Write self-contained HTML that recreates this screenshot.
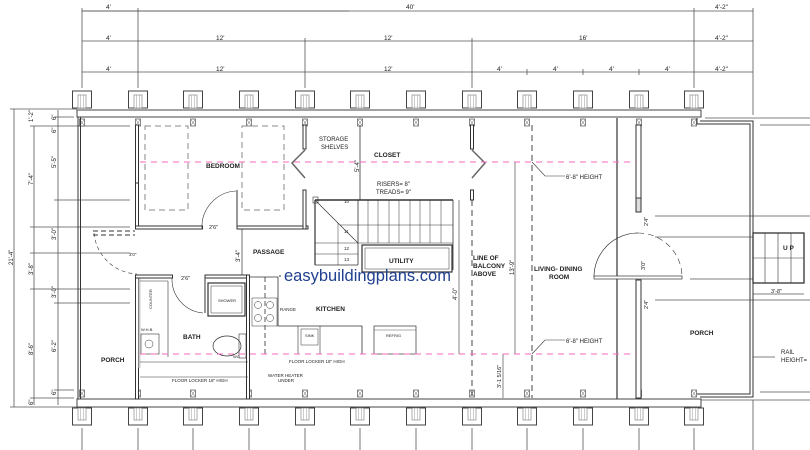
<!DOCTYPE html>
<html><head><meta charset="utf-8"><style>
html,body{margin:0;padding:0;background:#fff;}
svg{display:block;}
text{font-family:"Liberation Sans",sans-serif;fill:#222;}
.b{font-weight:bold;}
</style></head><body>
<svg width="810" height="450" viewBox="0 0 810 450" xmlns="http://www.w3.org/2000/svg">
<defs>
<g id="pier"><rect x="-9.5" y="0" width="19" height="17" fill="#fff" stroke="#444" stroke-width="1"/><rect x="-4" y="4" width="8" height="13" fill="#fff" stroke="#777" stroke-width="0.6"/><line x1="-1.3" y1="4" x2="-1.3" y2="17" stroke="#999" stroke-width="0.5"/><line x1="1.3" y1="4" x2="1.3" y2="17" stroke="#999" stroke-width="0.5"/></g>
<g id="pierb"><rect x="-9.5" y="0" width="19" height="17" fill="#fff" stroke="#444" stroke-width="1"/><rect x="-4" y="0" width="8" height="12" fill="#fff" stroke="#777" stroke-width="0.6"/><line x1="-1.3" y1="0" x2="-1.3" y2="12" stroke="#999" stroke-width="0.5"/><line x1="1.3" y1="0" x2="1.3" y2="12" stroke="#999" stroke-width="0.5"/></g>
<g id="jst"><rect x="-2.5" y="0" width="5" height="7" fill="#fff" stroke="#555" stroke-width="0.7"/><line x1="-2.5" y1="0" x2="2.5" y2="7" stroke="#666" stroke-width="0.5"/><line x1="2.5" y1="0" x2="-2.5" y2="7" stroke="#666" stroke-width="0.5"/></g>
</defs>
<g stroke="#555" stroke-width="0.8" fill="none">
<!-- top dims -->
<line x1="82" y1="11" x2="349" y2="11"/><line x1="82" y1="11" x2="753" y2="11"/>
<line x1="82" y1="41" x2="753" y2="41"/>
<line x1="82" y1="72" x2="753" y2="72"/>
<line x1="82" y1="8" x2="82" y2="88"/><line x1="138" y1="8" x2="138" y2="88"/>
<line x1="305" y1="38" x2="305" y2="88"/><line x1="472" y1="38" x2="472" y2="88"/>
<line x1="694" y1="8" x2="694" y2="88"/><line x1="753" y1="8" x2="753" y2="115"/>
<line x1="527" y1="69" x2="527" y2="75"/><line x1="583" y1="69" x2="583" y2="75"/><line x1="639" y1="69" x2="639" y2="75"/>
<!-- left dims -->
<line x1="14" y1="109" x2="14" y2="407"/><line x1="10" y1="109" x2="77" y2="109"/><line x1="10" y1="407" x2="77" y2="407"/>
<line x1="34" y1="126" x2="34" y2="405"/><line x1="58" y1="110" x2="58" y2="405"/>
<line x1="30" y1="126" x2="130" y2="126"/><line x1="30" y1="227" x2="130" y2="227"/><line x1="30" y1="253" x2="130" y2="253"/>
<line x1="30" y1="289" x2="130" y2="289"/><line x1="54" y1="200" x2="130" y2="200"/><line x1="54" y1="303" x2="130" y2="303"/>
<line x1="54" y1="390" x2="74" y2="390"/><line x1="30" y1="398" x2="74" y2="398"/><line x1="54" y1="117" x2="74" y2="117"/>
<!-- bottom dim ticks -->
<line x1="82" y1="428" x2="82" y2="450"/><line x1="138" y1="428" x2="138" y2="450"/><line x1="193" y1="428" x2="193" y2="450"/><line x1="249" y1="428" x2="249" y2="450"/><line x1="305" y1="428" x2="305" y2="450"/><line x1="360" y1="428" x2="360" y2="450"/><line x1="416" y1="428" x2="416" y2="450"/><line x1="472" y1="428" x2="472" y2="450"/><line x1="527" y1="428" x2="527" y2="450"/><line x1="583" y1="428" x2="583" y2="450"/><line x1="639" y1="428" x2="639" y2="450"/><line x1="694" y1="428" x2="694" y2="450"/><line x1="753" y1="400" x2="753" y2="450"/>
<!-- right extension lines -->
<line x1="705" y1="118" x2="810" y2="118"/><line x1="760" y1="125" x2="810" y2="125"/>
<line x1="655" y1="216" x2="810" y2="216"/><line x1="655" y1="237" x2="753" y2="237"/>
<line x1="690" y1="279" x2="753" y2="279"/><line x1="655" y1="300" x2="810" y2="300"/>
<line x1="753" y1="294" x2="804" y2="294"/>
<line x1="753" y1="357" x2="775" y2="357"/>
<line x1="760" y1="392" x2="810" y2="392"/><line x1="700" y1="400" x2="810" y2="400"/>
</g>
<g fill="#333" font-size="6.5">
<text x="106" y="9">4'</text><text x="406" y="9">40'</text><text x="715" y="9">4'-2"</text>
<text x="106" y="40">4'</text><text x="216" y="40">12'</text><text x="384" y="40">12'</text><text x="579" y="40">16'</text><text x="715" y="40">4'-2"</text>
<text x="106" y="71">4'</text><text x="216" y="71">12'</text><text x="384" y="71">12'</text><text x="497" y="71">4'</text><text x="553" y="71">4'</text><text x="609" y="71">4'</text><text x="665" y="71">4'</text><text x="715" y="71">4'-2"</text>
</g>
<g font-size="6" fill="#333">
<text transform="translate(13,265) rotate(-90)">21'-4"</text>
<text transform="translate(33,185) rotate(-90)">7'-4"</text>
<text transform="translate(33,275) rotate(-90)">3'-8"</text>
<text transform="translate(33,355) rotate(-90)">8'-6"</text>
<text transform="translate(33,122) rotate(-90)">1'-2"</text>
<text transform="translate(56,168) rotate(-90)">5'-5"</text>
<text transform="translate(56,240) rotate(-90)">3'-0"</text>
<text transform="translate(56,298) rotate(-90)">3'-0"</text>
<text transform="translate(56,352) rotate(-90)">6'-2"</text>
<text transform="translate(56,120) rotate(-90)">6"</text>
<text transform="translate(56,133) rotate(-90)">6"</text>
<text transform="translate(56,395) rotate(-90)">6"</text>
<text transform="translate(33,405) rotate(-90)">6"</text>
</g>
<!-- piers -->
<g>
<use href="#pier" x="82" y="91"/><use href="#pier" x="138" y="91"/><use href="#pier" x="193" y="91"/><use href="#pier" x="249" y="91"/><use href="#pier" x="305" y="91"/><use href="#pier" x="360" y="91"/><use href="#pier" x="416" y="91"/><use href="#pier" x="472" y="91"/><use href="#pier" x="527" y="91"/><use href="#pier" x="583" y="91"/><use href="#pier" x="639" y="91"/><use href="#pier" x="694" y="91"/>
<use href="#pierb" x="82" y="408"/><use href="#pierb" x="138" y="408"/><use href="#pierb" x="193" y="408"/><use href="#pierb" x="249" y="408"/><use href="#pierb" x="305" y="408"/><use href="#pierb" x="360" y="408"/><use href="#pierb" x="416" y="408"/><use href="#pierb" x="472" y="408"/><use href="#pierb" x="527" y="408"/><use href="#pierb" x="583" y="408"/><use href="#pierb" x="639" y="408"/><use href="#pierb" x="694" y="408"/>
</g>
<!-- beams -->
<rect x="77" y="110" width="624" height="7" fill="#fff" stroke="#444" stroke-width="1"/>
<rect x="77" y="399" width="624" height="8" fill="#fff" stroke="#444" stroke-width="1"/>
<g>
<use href="#jst" x="82" y="119"/><use href="#jst" x="138" y="119"/><use href="#jst" x="193" y="119"/><use href="#jst" x="249" y="119"/><use href="#jst" x="305" y="119"/><use href="#jst" x="360" y="119"/><use href="#jst" x="416" y="119"/><use href="#jst" x="472" y="119"/><use href="#jst" x="527" y="119"/><use href="#jst" x="583" y="119"/><use href="#jst" x="639" y="119"/><use href="#jst" x="694" y="119"/>
<use href="#jst" x="82" y="390"/><use href="#jst" x="138" y="390"/><use href="#jst" x="193" y="390"/><use href="#jst" x="249" y="390"/><use href="#jst" x="305" y="390"/><use href="#jst" x="360" y="390"/><use href="#jst" x="416" y="390"/><use href="#jst" x="472" y="390"/><use href="#jst" x="527" y="390"/><use href="#jst" x="583" y="390"/><use href="#jst" x="639" y="390"/><use href="#jst" x="694" y="390"/>
</g>
<g stroke="#333" stroke-width="1" fill="none">
<!-- outer left wall -->
<line x1="78" y1="117" x2="78" y2="399"/><line x1="80.5" y1="117" x2="80.5" y2="399"/>
<!-- bedroom left wall -->
<rect x="135.5" y="125" width="3" height="58" fill="#fff"/><rect x="135.5" y="183" width="3" height="44" fill="#fff"/>
<!-- bedroom bottom wall -->
<rect x="135.5" y="226" width="67" height="3" fill="#fff"/><rect x="237" y="226" width="71" height="3" fill="#fff"/>
<line x1="237" y1="190" x2="237" y2="226"/>
<path d="M202 229 A36 36 0 0 1 236 191" stroke-width="0.6"/>
<!-- bedroom right wall -->
<rect x="303" y="125" width="3" height="24" fill="#fff"/><rect x="303" y="190" width="3" height="39" fill="#fff"/>
<polyline points="305,150 292,163 305,178" stroke="#666" stroke-width="1.5"/>
<!-- closet right -->
<rect x="470.5" y="125" width="3" height="24" fill="#fff"/><rect x="470.5" y="190" width="3" height="10" fill="#fff"/>
<polyline points="472,150 485,163 472,178" stroke="#666" stroke-width="1.5"/>
<line x1="360" y1="125" x2="360" y2="200" stroke-width="0.8"/>
<!-- porch door left -->
<line x1="93" y1="231" x2="135" y2="231" stroke-dasharray="5,3"/><line x1="93" y1="235" x2="135" y2="235" stroke-dasharray="5,3"/>
<path d="M94 233 A45 45 0 0 0 137 274" stroke-dasharray="4,3" stroke-width="0.6"/>
<!-- bath walls -->
<rect x="135.5" y="275" width="3" height="124" fill="#fff"/><rect x="138.5" y="278" width="2" height="90" fill="#ccc" stroke="none"/>
<rect x="135.5" y="275" width="37" height="3" fill="#fff"/><rect x="205" y="275" width="43" height="3" fill="#fff"/>
<line x1="205" y1="278" x2="205" y2="313"/>
<path d="M172 278 A34 34 0 0 0 203 313" stroke-width="0.6"/>
<rect x="246.5" y="275" width="3" height="124" fill="#fff"/>
<rect x="208" y="283" width="37" height="33" stroke-width="1.2"/><rect x="211" y="286" width="31" height="27" stroke-width="0.5"/>
<line x1="168" y1="281" x2="168" y2="357" stroke-width="0.6"/>
<line x1="140" y1="281" x2="168" y2="281" stroke-width="0.6"/>
<rect x="141" y="334" width="18" height="20" stroke-width="0.6"/><circle cx="149" cy="344" r="4" stroke-width="0.5"/>
<ellipse cx="227" cy="346" rx="14" ry="10" stroke-width="0.7"/><rect x="239" y="334" width="7" height="24" stroke-width="0.6"/>
<line x1="140" y1="362" x2="248" y2="362" stroke-width="0.6"/><line x1="140" y1="377" x2="248" y2="377" stroke-width="0.6"/>
<!-- passage -->
<line x1="242" y1="229" x2="242" y2="275" stroke-width="0.7"/>
<!-- stairs -->
<rect x="313" y="197" width="5" height="6" stroke-width="0.6"/>
<line x1="315" y1="200" x2="453" y2="200" stroke-width="1.4"/>
<line x1="315" y1="200" x2="315" y2="265" stroke-width="1.2"/>
<line x1="315" y1="265" x2="358" y2="265" stroke-width="0.8"/>
<line x1="358" y1="200" x2="358" y2="265" stroke-width="0.8"/>
<line x1="315" y1="200" x2="358" y2="243" stroke-width="0.7"/>
<line x1="340" y1="225" x2="453" y2="225" stroke-width="0.5"/>
<line x1="358" y1="243" x2="453" y2="243" stroke-width="0.6"/>
<line x1="315" y1="243" x2="358" y2="243" stroke-width="0.5"/>
<line x1="338" y1="223" x2="338" y2="265" stroke-width="0.5"/>
<line x1="315" y1="254" x2="358" y2="254" stroke-width="0.5"/>
<g stroke-width="0.5"><line x1="368" y1="200" x2="368" y2="243"/><line x1="378" y1="200" x2="378" y2="243"/><line x1="389" y1="200" x2="389" y2="243"/><line x1="399" y1="200" x2="399" y2="243"/><line x1="410" y1="200" x2="410" y2="243"/><line x1="420" y1="200" x2="420" y2="243"/><line x1="430" y1="200" x2="430" y2="243"/><line x1="441" y1="200" x2="441" y2="243"/></g>
<line x1="453" y1="200" x2="453" y2="270" stroke-width="0.8"/>
<rect x="362" y="245" width="90" height="27" stroke-width="1.2"/><rect x="365" y="248" width="84" height="21" stroke-width="0.5"/>
<!-- kitchen -->
<polyline points="250,277 278,277 278,326 362,326 362,354" stroke-width="0.8"/>
<line x1="280" y1="275" x2="280" y2="277" />
<line x1="265" y1="277" x2="265" y2="354" stroke-dasharray="5,3" stroke-width="0.8"/>
<rect x="252" y="298" width="25" height="28" stroke-width="0.5"/>
<circle cx="258" cy="305" r="3.5" stroke-width="0.5"/><circle cx="258" cy="318" r="3.5" stroke-width="0.5"/><circle cx="270" cy="305" r="3.5" stroke-width="0.5"/><circle cx="270" cy="318" r="3.5" stroke-width="0.5"/>
<line x1="298" y1="326" x2="298" y2="354" stroke-width="0.6"/><line x1="320" y1="326" x2="320" y2="354" stroke-width="0.6"/>
<rect x="301" y="329" width="17" height="16" stroke-width="0.5"/>
<rect x="374" y="326" width="42" height="28" stroke-width="0.7"/><line x1="374" y1="330" x2="416" y2="330" stroke-width="0.4"/>
<!-- balcony / living -->
<line x1="472" y1="200" x2="472" y2="398" stroke-dasharray="6,4" stroke-width="0.9"/>
<line x1="532" y1="125" x2="532" y2="398" stroke-dasharray="6,4" stroke-width="0.9"/>
<line x1="515" y1="162" x2="515" y2="354" stroke-width="0.6"/>
<line x1="459" y1="200" x2="459" y2="354" stroke-width="0.6"/>
<line x1="503" y1="354" x2="503" y2="398" stroke-width="0.6"/>
<polyline points="532,162 545,176 565,176" stroke-width="0.6"/>
<polyline points="532,354 545,340 565,340" stroke-width="0.6"/>
<!-- right walls -->
<line x1="617" y1="118" x2="617" y2="399" stroke-width="1.2"/>
<rect x="636" y="125" width="5" height="87" fill="#fff"/><rect x="636" y="280" width="5" height="118" fill="#fff"/>
<rect x="636" y="198" width="5" height="14" fill="#ddd"/>
<path d="M594 277 A44 44 0 0 1 638 233" stroke-width="0.7"/>
<path d="M638 233 A44 44 0 0 1 682 277" stroke-dasharray="6,4" stroke-width="0.6"/>
<rect x="594" y="276" width="88" height="3" fill="#fff" stroke-width="0.7"/>
<!-- porch right -->
<polyline points="697,118 697,124 750,124 750,394 697,394" stroke-width="1"/>
<polyline points="700,121 753,121 753,397 700,397" stroke-width="1"/>
<!-- UP stairs -->
<rect x="753" y="233" width="51" height="50" stroke-width="1.3"/>
<line x1="753" y1="258" x2="804" y2="258" stroke-width="0.6"/>
<line x1="765" y1="233" x2="765" y2="283" stroke-width="0.6"/><line x1="778" y1="233" x2="778" y2="283" stroke-width="0.6"/><line x1="791" y1="233" x2="791" y2="283" stroke-width="0.6"/>
</g>
<!-- beds -->
<g stroke="#888" stroke-width="1" fill="none" stroke-dasharray="6,4">
<rect x="145" y="126" width="43" height="84"/><rect x="242" y="126" width="42" height="84"/>
</g>
<!-- pink lines -->
<g stroke="#f06aba" stroke-width="1" stroke-dasharray="6,5">
<line x1="140" y1="162" x2="636" y2="162"/>
<line x1="140" y1="354" x2="636" y2="354"/>
</g>
<!-- labels -->
<g font-size="6.5" class="b">
<text x="206" y="168" class="b" font-weight="bold">BEDROOM</text>
<text x="374" y="157" font-weight="bold">CLOSET</text>
<text x="253" y="254" font-weight="bold">PASSAGE</text>
<text x="389" y="263" font-weight="bold">UTILITY</text>
<text x="316" y="311" font-weight="bold">KITCHEN</text>
<text x="183" y="339" font-weight="bold">BATH</text>
<text x="101" y="362" font-weight="bold">PORCH</text>
<text x="690" y="335" font-weight="bold">PORCH</text>
<text x="473" y="260" font-weight="bold">LINE OF</text>
<text x="473" y="268" font-weight="bold">BALCONY</text>
<text x="473" y="276" font-weight="bold">ABOVE</text>
<text x="534" y="271" font-weight="bold">LIVING- DINING</text>
<text x="549" y="279" font-weight="bold">ROOM</text>
<text x="783" y="250" font-weight="bold">U P</text>
</g>
<g font-size="6" fill="#333">
<text x="319" y="141">STORAGE</text><text x="321" y="149">SHELVES</text>
<text x="377" y="186">RISERS= 8"</text><text x="376" y="194">TREADS= 9"</text>
<text x="566" y="179">6'-8" HEIGHT</text><text x="566" y="343">6'-8" HEIGHT</text>
<text x="209" y="229" font-size="5.5">2'6"</text><text x="181" y="280" font-size="5.5">2'6"</text>
<text x="129" y="256" font-size="4.5">3'0"</text>
<text x="771" y="293" font-size="5.5">3'-8"</text>
<text x="781" y="354">RAIL</text><text x="781" y="362">HEIGHT=</text>
<text x="218" y="302" font-size="4">SHOWER</text>
<text x="280" y="311" font-size="4.5">RANGE</text>
<text x="305" y="337" font-size="4">SINK</text>
<text x="386" y="337" font-size="4">REFRIG</text>
<text x="141" y="331" font-size="4">W.H.B.</text>
<text x="233" y="358" font-size="4">WC</text>
<text x="289" y="363" font-size="4.5">FLOOR LOCKER 18" HIGH</text>
<text x="172" y="382" font-size="4.5">FLOOR LOCKER 18" HIGH</text>
<text x="268" y="377" font-size="4.5">WATER HEATER</text><text x="278" y="382" font-size="4.5">UNDER</text>
<text transform="translate(152,309) rotate(-90)" font-size="4">COUNTER</text>
<text transform="translate(359,172) rotate(-90)">5'-4"</text>
<text transform="translate(240,262) rotate(-90)">3'-4"</text>
<text transform="translate(514,275) rotate(-90)">13'-9"</text>
<text transform="translate(457,300) rotate(-90)">4'-0"</text>
<text transform="translate(501,388) rotate(-90)" font-size="5.5">3'-1 5/16"</text>
<text transform="translate(648,226) rotate(-90)" font-size="5.5">2'4"</text>
<text transform="translate(648,309) rotate(-90)" font-size="5.5">2'4"</text>
<text transform="translate(645,270) rotate(-90)" font-size="5.5">3'0"</text>
<text x="344" y="203" font-size="4.5">10</text><text x="344" y="233" font-size="4.5">11</text><text x="344" y="250" font-size="4.5">12</text><text x="344" y="261" font-size="4.5">13</text>
</g>
<text x="284" y="281" font-size="16.5" fill="#1f3f8f" style="fill:#1f3f8f">easybuildingplans.com</text>
</svg>
</body></html>
